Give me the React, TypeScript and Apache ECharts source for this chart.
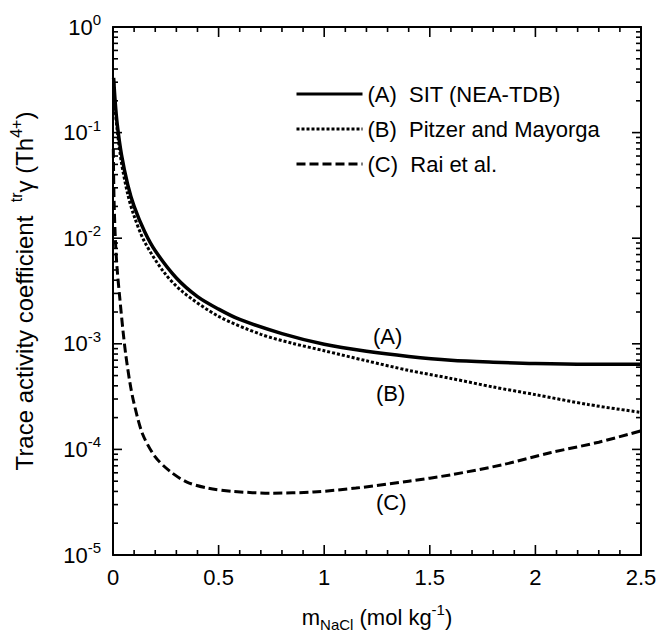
import React, { useEffect, useRef } from "react";
import * as echarts from "echarts";

// molality of NaCl (mol/kg) and trace activity coefficients
const M_A = [0.003, 0.01, 0.02, 0.04, 0.07, 0.1, 0.15, 0.2, 0.3, 0.4, 0.5, 0.6, 0.8, 1.0, 1.2, 1.4, 1.6, 1.8, 2.0, 2.25, 2.5];
const GAMMA_A = [0.33, 0.2, 0.12, 0.062, 0.032, 0.02, 0.0115, 0.0076, 0.0042, 0.0028, 0.00213, 0.0017, 0.00125, 0.00099, 0.00085, 0.00076, 0.0007, 0.00067, 0.00065, 0.00064, 0.00064];

const M_B = [0.003, 0.01, 0.02, 0.04, 0.07, 0.1, 0.15, 0.24, 0.33, 0.5, 0.7, 0.85, 1.0, 1.2, 1.4, 1.6, 1.8, 2.0, 2.25, 2.5];
const GAMMA_B = [0.3, 0.17, 0.105, 0.052, 0.026, 0.0162, 0.0092, 0.0048, 0.0031, 0.00182, 0.00123, 0.00101, 0.00086, 0.00069, 0.00056, 0.00047, 0.00039, 0.00033, 0.000266, 0.000224];

const M_C = [0.0015, 0.005, 0.012, 0.02, 0.033, 0.047, 0.06, 0.08, 0.1, 0.14, 0.2, 0.27, 0.35, 0.45, 0.57, 0.75, 0.95, 1.15, 1.4, 1.6, 1.85, 2.07, 2.3, 2.5];
const GAMMA_C = [0.07, 0.023, 0.009, 0.005, 0.0026, 0.00135, 0.0008, 0.00043, 0.00027, 0.00014, 0.000085, 0.000062, 0.000049, 0.000043, 0.00004, 0.0000385, 0.0000395, 0.000043, 0.00005, 0.0000575, 0.000072, 0.000093, 0.000117, 0.00015];

const SERIES_NAMES = ["(A)  SIT (NEA-TDB)", "(B)  Pitzer and Mayorga", "(C)  Rai et al."];
const X_TICK_LABELS = ["0", "0.5", "1", "1.5", "2", "2.5"];
const X_MIN = 0;
const X_MAX = 2.5;
const Y_MIN = 1e-5;
const Y_MAX = 1;
const DECADES = [-5, -4, -3, -2, -1, 0];
const MINOR_MULTIPLIERS = [2, 3, 4, 5, 6, 7, 8, 9];

const FONT = "'Liberation Sans', Arial, Helvetica, sans-serif";

function zip(xs: number[], ys: number[]) {
  return xs.map((x, i) => [x, ys[i]]);
}

export default function App() {
  const ref = useRef<HTMLDivElement>(null);

  useEffect(() => {
    if (!ref.current) return;
    const chart = echarts.init(ref.current, undefined, { renderer: "svg" });

    // tick positions: [axisFlag(0 = x, 1 = y), value, major(1)/minor(0)]
    const ticks: number[][] = [];
    for (let i = 1; i < 25; i++) {
      ticks.push([0, i / 10, i % 5 === 0 ? 1 : 0]);
    }
    DECADES.forEach((d) => {
      if (d > -5 && d < 0) ticks.push([1, Math.pow(10, d), 1]);
      if (d < 0) {
        MINOR_MULTIPLIERS.forEach((k) => ticks.push([1, k * Math.pow(10, d), 0]));
      }
    });

    const xAxisCommon = {
      type: "value",
      min: X_MIN,
      max: X_MAX,
      interval: 0.5,
      axisLine: { show: true, onZero: false, lineStyle: { color: "#000", width: 2 } },
      axisTick: { show: false },
      minorTick: { show: false },
      splitLine: { show: false },
      minorSplitLine: { show: false },
    };

    const yAxisCommon = {
      type: "log",
      logBase: 10,
      min: Y_MIN,
      max: Y_MAX,
      splitNumber: 5,
      axisLine: { show: true, onZero: false, lineStyle: { color: "#000", width: 2 } },
      axisTick: { show: false },
      splitLine: { show: false },
    };

    const lineSeries = (name: string, data: number[][], type: any, width: number) => ({
      name,
      type: "line",
      data,
      xAxisIndex: 0,
      yAxisIndex: 0,
      symbol: "none",
      showSymbol: false,
      smooth: 0.3,
      clip: true,
      lineStyle: { color: "#000", width, type },
      itemStyle: { color: "#000" },
      z: 5,
    });

    chart.setOption({
      animation: false,
      backgroundColor: "#fff",
      textStyle: { fontFamily: FONT, color: "#000" },
      grid: { left: 113, top: 27, right: 18, bottom: 81, containLabel: false, outerBoundsMode: "none" },
      legend: {
        show: true,
        left: 290,
        top: 78,
        orient: "vertical",
        itemWidth: 66,
        itemHeight: 22,
        itemGap: 13,
        selectedMode: false,
        itemStyle: { color: "rgba(0,0,0,0)", borderWidth: 0, opacity: 0 },
        lineStyle: { width: 3 },
        textStyle: { fontSize: 22, fontFamily: FONT, color: "#000" },
        data: SERIES_NAMES,
      },
      xAxis: [
        {
          ...xAxisCommon,
          position: "bottom",
          axisLabel: {
            show: true,
            margin: 11,
            fontSize: 22,
            fontFamily: FONT,
            color: "#000",
            formatter: (v: number) => X_TICK_LABELS[Math.round(v / 0.5)] ?? "",
          },
          name: "{a|m}{sub|NaCl}{a| (mol kg}{sup|-1}{a|)}",
          nameLocation: "middle",
          nameGap: 47,
          nameTextStyle: {
            fontFamily: FONT,
            color: "#000",
            rich: {
              a: { fontSize: 22, fontFamily: FONT, color: "#000", lineHeight: 30 },
              sub: { fontSize: 15, fontFamily: FONT, color: "#000", lineHeight: 10, verticalAlign: "bottom" },
              sup: { fontSize: 15, fontFamily: FONT, color: "#000", lineHeight: 10, verticalAlign: "top" },
            },
          },
        },
        {
          ...xAxisCommon,
          position: "top",
          axisLabel: { show: false },
        },
      ],
      yAxis: [
        {
          ...yAxisCommon,
          position: "left",
          axisLabel: {
            show: true,
            margin: 12,
            fontFamily: FONT,
            color: "#000",
            formatter: (v: number) => {
              const e = Math.round(Math.log10(v));
              return "{b|10}{s|" + e + "}";
            },
            rich: {
              b: { fontSize: 22, fontFamily: FONT, color: "#000", lineHeight: 30 },
              s: { fontSize: 15, fontFamily: FONT, color: "#000", lineHeight: 10, verticalAlign: "top" },
            },
          },
          name: "{t|Trace activity coefficient  }{s|tr}{t|γ (Th}{s|4+}{t|)}",
          nameLocation: "middle",
          nameRotate: 90,
          nameGap: 73,
          nameTextStyle: {
            fontFamily: FONT,
            color: "#000",
            rich: {
              t: { fontSize: 24, fontFamily: FONT, color: "#000", lineHeight: 32 },
              s: { fontSize: 16, fontFamily: FONT, color: "#000", lineHeight: 10, verticalAlign: "top" },
            },
          },
        },
        {
          ...yAxisCommon,
          position: "right",
          axisLabel: { show: false },
        },
      ],
      graphic: [
        { type: "text", left: 373, top: 325, style: { text: "(A)", fontSize: 22, fontFamily: FONT, fill: "#000" } },
        { type: "text", left: 376, top: 382, style: { text: "(B)", fontSize: 22, fontFamily: FONT, fill: "#000" } },
        { type: "text", left: 376, top: 491, style: { text: "(C)", fontSize: 22, fontFamily: FONT, fill: "#000" } },
      ],
      series: [
        lineSeries(SERIES_NAMES[0], zip(M_A, GAMMA_A), "solid", 3.5),
        lineSeries(SERIES_NAMES[1], zip(M_B, GAMMA_B), [3, 2], 3),
        lineSeries(SERIES_NAMES[2], zip(M_C, GAMMA_C), [9, 4], 3),
        {
          type: "custom",
          name: "ticks",
          xAxisIndex: 0,
          yAxisIndex: 0,
          silent: true,
          clip: false,
          encode: { x: 1, y: 1 },
          data: ticks,
          renderItem: (params: any, api: any) => {
            const isY = api.value(0) === 1;
            const v = api.value(1);
            const major = api.value(2) === 1;
            const style = { stroke: "#000", lineWidth: 1.6 };
            if (isY) {
              const len = major ? 9 : 5;
              const pL = api.coord([X_MIN, v]);
              const pR = api.coord([X_MAX, v]);
              return {
                type: "group",
                children: [
                  { type: "line", shape: { x1: pL[0], y1: pL[1], x2: pL[0] + len, y2: pL[1] }, style },
                  { type: "line", shape: { x1: pR[0], y1: pR[1], x2: pR[0] - len, y2: pR[1] }, style },
                ],
              };
            }
            const len = major ? 10 : 5;
            const pB = api.coord([v, Y_MIN]);
            const pT = api.coord([v, Y_MAX]);
            return {
              type: "group",
              children: [
                { type: "line", shape: { x1: pB[0], y1: pB[1], x2: pB[0], y2: pB[1] - len }, style },
                { type: "line", shape: { x1: pT[0], y1: pT[1], x2: pT[0], y2: pT[1] + len }, style },
              ],
            };
          },
          z: 3,
        },
      ],
    });

    return () => chart.dispose();
  }, []);

  return (
    <div
      ref={ref}
      style={{ position: "fixed", left: 0, top: 0, width: 659, height: 636, background: "#fff" }}
    />
  );
}
